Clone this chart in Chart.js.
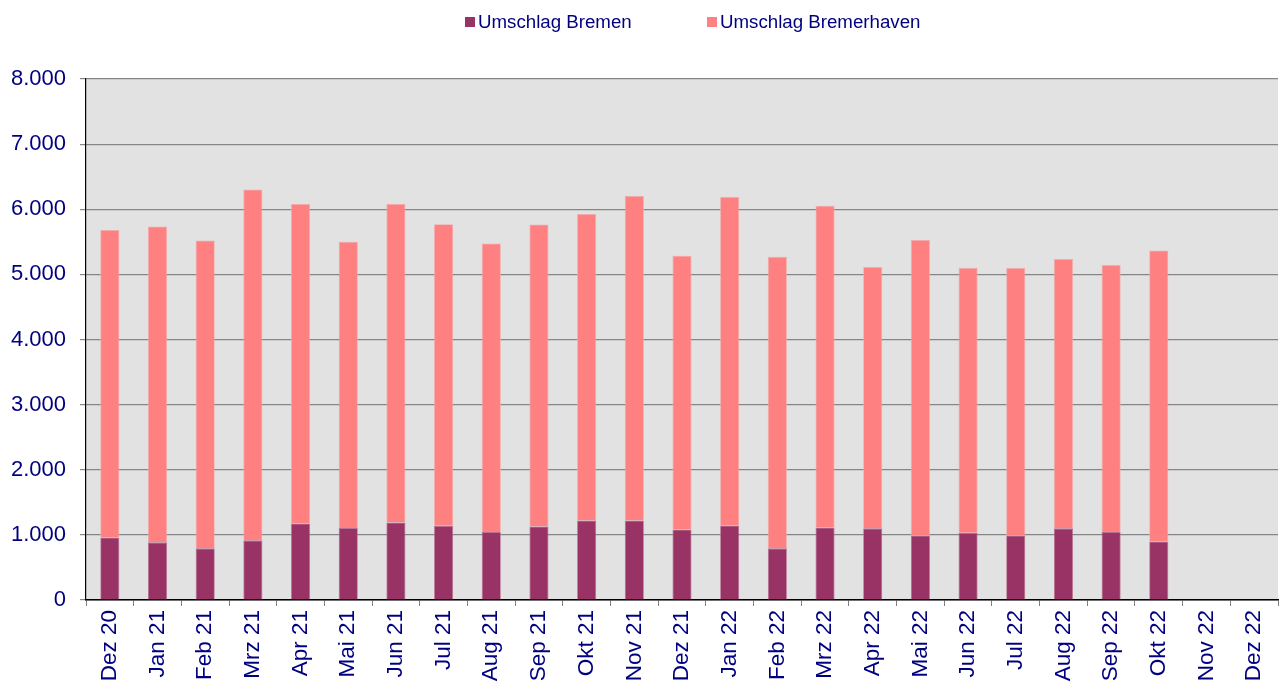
<!DOCTYPE html>
<html>
<head>
<meta charset="utf-8">
<script src="https://cdn.jsdelivr.net/npm/chart.js@4/dist/chart.umd.min.js"></script>
<style>
  html, body { margin: 0; padding: 0; background: #fff; }
  #wrap { position: relative; width: 1280px; height: 684px; }
  .leg { position: absolute; top: 10px; font: 18.7px "Liberation Sans", Arial, sans-serif; color: #000080; line-height: 24px; white-space: nowrap; }
  .leg i { display: inline-block; width: 10px; height: 10px; margin-right: 3px; vertical-align: 1px; }
</style>
</head>
<body>
<div id="wrap">
  <canvas id="myChart" width="1280" height="684"></canvas>
  <div class="leg" style="left:465px"><i style="background:#993366"></i>Umschlag Bremen</div>
  <div class="leg" style="left:707px"><i style="background:#ff8080"></i>Umschlag Bremerhaven</div>
</div>
<script>
const months = ['Dez 20', 'Jan 21', 'Feb 21', 'Mrz 21', 'Apr 21', 'Mai 21', 'Jun 21', 'Jul 21', 'Aug 21',
    'Sep 21', 'Okt 21', 'Nov 21', 'Dez 21', 'Jan 22', 'Feb 22', 'Mrz 22', 'Apr 22', 'Mai 22', 'Jun 22',
    'Jul 22', 'Aug 22', 'Sep 22', 'Okt 22', 'Nov 22', 'Dez 22'];

const bremen = [960, 885, 793, 916, 1176, 1105, 1191, 1141, 1044, 1130, 1222, 1222, 1084,
    1145, 793, 1115, 1100, 992, 1034, 992, 1100, 1044, 900, null, null];

const bremerhaven = [4720, 4850, 4727, 5389, 4904, 4395, 4889, 4629, 4430, 4635, 4706, 4981, 4202,
    5043, 4477, 4940, 4013, 4534, 4066, 4105, 4135, 4100, 4467, null, null];

const yTicks = [0, 1000, 2000, 3000, 4000, 5000, 6000, 7000, 8000];

const navy = '#000080';
const font = 'Liberation Sans, Arial, sans-serif';

// grey plot background like the original spreadsheet chart
const plotBg = {
    id: 'plotBg',
    beforeDraw(chart) {
        const a = chart.chartArea;
        const c = chart.ctx;
        c.save();
        c.fillStyle = '#e2e2e2';
        c.fillRect(a.left, a.top, a.right - a.left, a.bottom - a.top);
        c.restore();
    }
};

const ctx = document.getElementById('myChart');
new Chart(ctx, {
    type: 'bar',
    data: {
        labels: months,
        datasets: [
            { label: 'Umschlag Bremen', data: bremen, backgroundColor: '#993366',
              borderColor: '#b86e8e', borderWidth: 0.8 },
            { label: 'Umschlag Bremerhaven', data: bremerhaven, backgroundColor: '#ff8080',
              borderColor: '#f4aaaa', borderWidth: 0.8 }
        ]
    },
    options: {
        responsive: false,
        animation: false,
        layout: { padding: { top: 79, right: 2, left: 0, bottom: 0 } },
        datasets: { bar: { categoryPercentage: 1, barPercentage: 0.4 } },
        plugins: {
            legend: { display: false },
            tooltip: { enabled: false }
        },
        scales: {
            x: {
                stacked: true,
                grid: { offset: true, drawOnChartArea: false, drawTicks: true, tickLength: 6, color: '#808080' },
                border: { color: '#000', width: 1.5 },
                ticks: { color: navy, font: { family: font, size: 22.5 }, maxRotation: 90, minRotation: 90,
                         autoSkip: false, padding: 4 },
                afterFit(scale) { scale.height = 84; scale.paddingRight = 0; scale.paddingLeft = 0; }
            },
            y: {
                stacked: true,
                min: 0,
                max: 8000,
                afterBuildTicks(scale) { scale.ticks = yTicks.map(v => ({ value: v })); },
                grid: { color: '#868686', lineWidth: 1.2, tickLength: 6 },
                border: { color: '#000', width: 1.2 },
                ticks: {
                    color: navy,
                    font: { family: font, size: 22 },
                    padding: 14,
                    callback: (v) => v.toString().replace(/\B(?=(\d{3})+(?!\d))/g, '.')
                },
                afterFit(scale) { scale.width = 86; scale.paddingTop = 0; scale.paddingBottom = 0; }
            }
        }
    },
    plugins: [plotBg]
});
</script>
</body>
</html>
